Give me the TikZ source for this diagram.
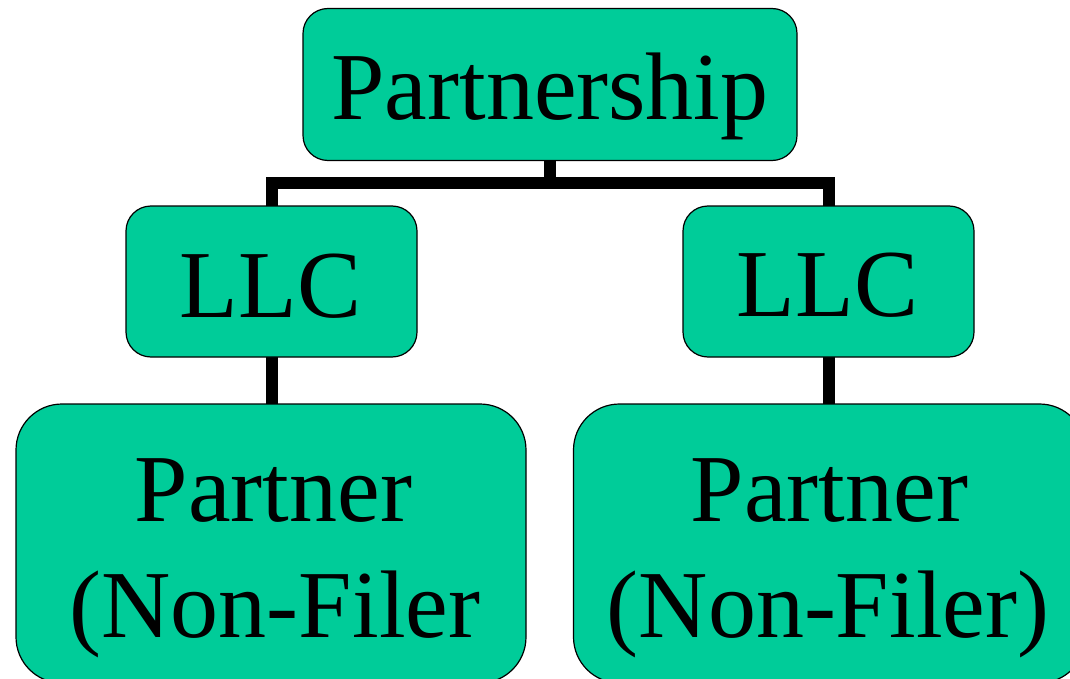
\documentclass[tikz,border=0pt]{standalone}
\usepackage{fontspec}
\setmainfont{Liberation Serif}
\usetikzlibrary{backgrounds}
\definecolor{boxgreen}{RGB}{0,204,153}
\begin{document}
\begin{tikzpicture}[x=1pt,y=-1pt,
  box/.style={draw=black,line width=1.2pt,fill=boxgreen,inner sep=0pt,outer sep=0pt,rectangle},
  smallbox/.style={box,rounded corners=25pt},
  bigbox/.style={box,rounded corners=46pt},
  conn/.style={draw=black,line width=12pt,line cap=butt,line join=miter},
  lbl/.style={anchor=base,inner sep=0pt,font=\fontsize{96}{116}\selectfont}]
\useasboundingbox (0,0) rectangle (1070,679);
\node[smallbox,minimum width=494pt,minimum height=152pt] (P) at (550,84.5) {};
\node[smallbox,minimum width=291pt,minimum height=151pt] (L1) at (271.5,281.5) {};
\node[smallbox,minimum width=291pt,minimum height=151pt] (L2) at (828.5,281.5) {};
\node[bigbox,minimum width=510pt,minimum height=279pt] (Q1) at (271,543.5) {};
\node[bigbox,minimum width=512pt,minimum height=279pt] (Q2) at (829.5,543.5) {};
\coordinate (bar) at (550,183);
\begin{scope}[on background layer]
\draw[conn] (P.south) -- (bar);
\draw[conn] (L1.north) |- (bar) -| (L2.north);
\draw[conn] (L1.south) -- (Q1.north -| L1.south);
\draw[conn] (L2.south) -- (Q2.north -| L2.south);
\end{scope}
\node[lbl] (tP) at (550,120) {Partnership};
\node[lbl] (tL1) at (270.5,317) {LLC};
\node[lbl] (tL2) at (827.5,316.5) {LLC};
\node[lbl] (tQ1a) at (273.5,521) {Partner};
\node[lbl] (tQ1b) at (275,637) {(Non-Filer};
\node[lbl] (tQ2a) at (829.5,521) {Partner};
\node[lbl] (tQ2b) at (828,637) {(Non-Filer)};
\end{tikzpicture}
\end{document}
